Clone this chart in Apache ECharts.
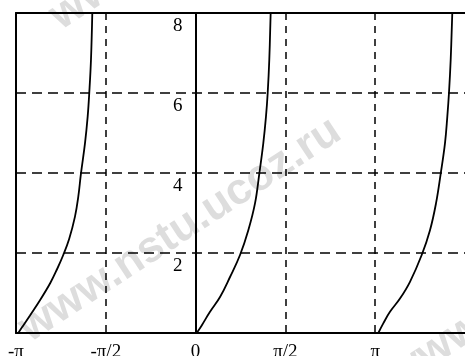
<!DOCTYPE html>
<html>
<head>
<meta charset="utf-8">
<script src="https://cdn.jsdelivr.net/npm/echarts@6/dist/echarts.min.js"></script>
<style>
html,body{margin:0;padding:0;background:#fff;}
#chart{width:465px;height:356px;}
</style>
</head>
<body>
<div id="chart"></div>
<script>
// x tick labels at -π, -π/2, 0, π/2, π, 3π/2
const xTickLabels = ['-π', '-π/2', '0', 'π/2', 'π', ''];
// y tick labels at 0, 2, 4, 6, 8
const yTickLabels = ['', '2', '4', '6', '8'];

// Branch 1 (starts at -π)
const branch1X = [-3.102, -3.014, -2.897, -2.722, -2.542, -2.422, -2.315, -2.212, -2.110, -2.052, -2.005, -1.935, -1.888, -1.860, -1.830, -1.807];
const branch1Y = [0, 0.19, 0.44, 0.82, 1.25, 1.60, 1.95, 2.35, 2.91, 3.41, 3.99, 4.74, 5.41, 6.0, 6.83, 8.0];
// Branch 2 (starts at 0)
const branch2X = [0.019, 0.107, 0.252, 0.427, 0.602, 0.777, 0.922, 1.039, 1.114, 1.184, 1.231, 1.261, 1.289, 1.313];
const branch2Y = [0, 0.19, 0.53, 0.90, 1.40, 1.95, 2.57, 3.24, 3.98, 4.74, 5.41, 6.0, 6.83, 8.0];
// Branch 3 (starts at π)
const branch3X = [3.196, 3.283, 3.400, 3.575, 3.750, 3.955, 4.100, 4.205, 4.287, 4.362, 4.403, 4.432, 4.462, 4.490];
const branch3Y = [0, 0.24, 0.53, 0.86, 1.28, 1.95, 2.57, 3.24, 3.98, 4.74, 5.41, 6.0, 6.83, 8.0];

const PI = Math.PI;
function pairs(xs, ys) { return xs.map((x, i) => [x, ys[i]]); }

const W = 465, H = 356;
const gridLeft = 16, gridRight = 0, gridTop = 13, gridBottom = 23;
const xMin = -PI, xMax = 1.5 * PI;
// distance (px) from grid's left edge to x = 0, used to place the y axis on zero
const zeroOffset = (0 - xMin) / (xMax - xMin) * (W - gridLeft - gridRight);

const chart = echarts.init(document.getElementById('chart'), null, {renderer: 'canvas'});
const labelFont = {fontFamily: '"Liberation Serif", "Times New Roman", serif', fontSize: 19, color: '#000'};
const wmStyle = {fill: 'rgba(150,150,150,0.32)', font: 'bold 44px "Liberation Sans", Arial, sans-serif'};
const blackLine = {color: '#000', width: 2};

function curve(data) {
  return {
    type: 'line', data: data, symbol: 'none', smooth: 0.4,
    lineStyle: {color: '#000', width: 1.8}, clip: true, silent: true, z: 5
  };
}

chart.setOption({
  animation: false,
  backgroundColor: '#fff',
  graphic: [
    {type: 'text', x: 180, y: 230, rotation: 0.58, z: -10, silent: true,
     style: Object.assign({text: 'www.nstu.ucoz.ru', textAlign: 'center', textVerticalAlign: 'middle'}, wmStyle)},
    {type: 'text', x: 478, y: 322, rotation: 0.58, z: -10, silent: true,
     style: Object.assign({text: 'www', textAlign: 'right', textVerticalAlign: 'middle'}, wmStyle)},
    {type: 'text', x: 140, y: -36, rotation: 0.58, z: -10, silent: true,
     style: Object.assign({text: 'www', textAlign: 'right', textVerticalAlign: 'middle'}, wmStyle)}
  ],
  grid: {left: gridLeft, right: gridRight, top: gridTop, bottom: gridBottom, containLabel: false, outerBoundsMode: 'none', show: false},
  xAxis: [{
    type: 'value', min: xMin, max: xMax, interval: PI / 2,
    axisLine: {show: true, onZero: false, lineStyle: blackLine},
    axisTick: {show: false},
    splitLine: {show: true, showMaxLine: false, lineStyle: {color: '#000', width: 1.5, type: [7, 6]}},
    axisLabel: Object.assign({
      margin: 10, showMaxLabel: true, showMinLabel: true, hideOverlap: false,
      formatter: function (v) { const k = Math.round(v / (PI / 2)) + 2; return xTickLabels[k] || ''; }
    }, labelFont)
  }, {
    type: 'value', min: xMin, max: xMax, position: 'top',
    axisLine: {show: true, onZero: false, lineStyle: blackLine},
    axisTick: {show: false}, axisLabel: {show: false}, splitLine: {show: false}
  }],
  yAxis: [{
    type: 'value', min: 0, max: 8, interval: 2, position: 'left', offset: -zeroOffset,
    axisLine: {show: true, onZero: false, lineStyle: blackLine},
    axisTick: {show: false},
    splitLine: {show: true, lineStyle: {color: '#000', width: 1.5, type: [10, 6]}},
    axisLabel: Object.assign({
      margin: 13, verticalAlign: 'top', padding: [4, 0, 0, 0], hideOverlap: false,
      formatter: function (v) { return yTickLabels[Math.round(v / 2)] || ''; }
    }, labelFont)
  }, {
    type: 'value', min: 0, max: 8, position: 'left', offset: 0,
    axisLine: {show: true, onZero: false, lineStyle: blackLine},
    axisTick: {show: false}, axisLabel: {show: false}, splitLine: {show: false}
  }],
  series: [curve(pairs(branch1X, branch1Y)), curve(pairs(branch2X, branch2Y)), curve(pairs(branch3X, branch3Y))]
});
</script>
</body>
</html>
